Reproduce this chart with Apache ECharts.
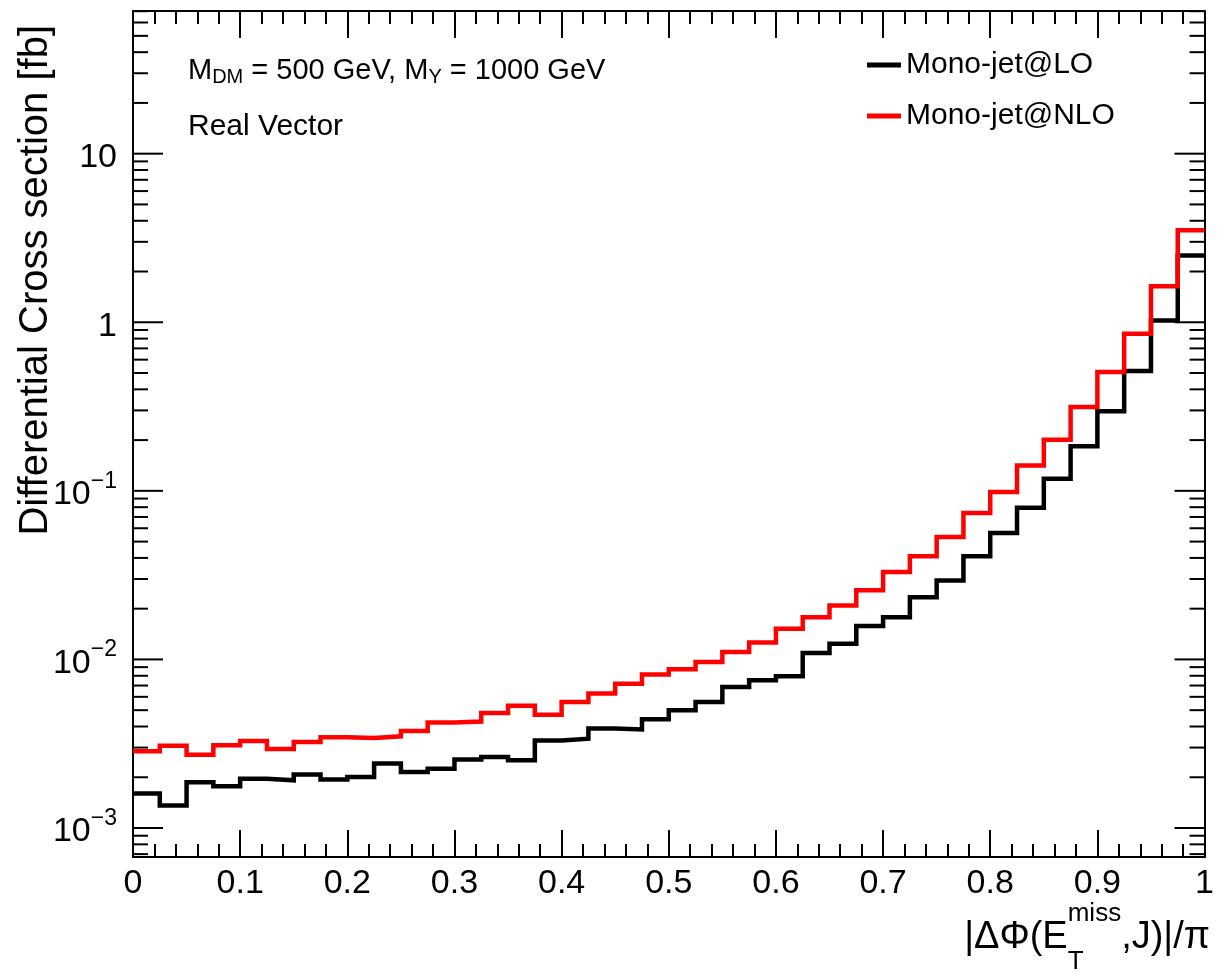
<!DOCTYPE html>
<html>
<head>
<meta charset="utf-8">
<script src="https://cdn.jsdelivr.net/npm/echarts@6/dist/echarts.min.js"></script>
<style>
  html, body { margin: 0; padding: 0; background: #fff; }
  #chart { width: 1217px; height: 972px; }
</style>
</head>
<body>
<div id="chart"></div>
<script>
// Binning of |dPhi(MET, J)|/pi : 40 bins from 0 to 1
const BIN_WIDTH = 0.025;
const N_BINS = 40;

// Differential cross section per bin [fb]
const monoJetLO = [
  1.60e-3, 1.36e-3, 1.87e-3, 1.77e-3, 1.96e-3, 1.92e-3, 2.08e-3, 1.94e-3, 2.01e-3, 2.41e-3,
  2.15e-3, 2.25e-3, 2.55e-3, 2.64e-3, 2.52e-3, 3.30e-3, 3.39e-3, 3.89e-3, 3.84e-3, 4.41e-3,
  4.99e-3, 5.59e-3, 6.86e-3, 7.52e-3, 7.94e-3, 1.092e-2, 1.24e-2, 1.58e-2, 1.78e-2, 2.34e-2,
  2.94e-2, 4.09e-2, 5.62e-2, 7.95e-2, 0.118, 0.184, 0.297, 0.514, 1.026, 2.49
];
const monoJetNLO = [
  2.85e-3, 3.08e-3, 2.72e-3, 3.10e-3, 3.28e-3, 2.94e-3, 3.24e-3, 3.45e-3, 3.42e-3, 3.50e-3,
  3.76e-3, 4.22e-3, 4.28e-3, 4.81e-3, 5.31e-3, 4.69e-3, 5.59e-3, 6.27e-3, 7.18e-3, 8.13e-3,
  8.73e-3, 9.66e-3, 1.107e-2, 1.259e-2, 1.52e-2, 1.78e-2, 2.09e-2, 2.57e-2, 3.30e-2, 4.09e-2,
  5.32e-2, 7.38e-2, 9.84e-2, 0.1416, 0.201, 0.314, 0.507, 0.855, 1.633, 3.51
];

// Axis ranges
const X_MIN = 0, X_MAX = 1, X_STEP = 0.1;
const Y_MIN = 6.73e-4, Y_MAX = 70.2;
const Y_DECADES = [-3, -2, -1, 0, 1];

const seriesNames = ['Mono-jet@LO', 'Mono-jet@NLO'];
const seriesColors = ['#000000', '#ff0000'];

const FONT = '"Liberation Sans", Arial, Helvetica, sans-serif';

// Histogram outline: one point per bin low edge plus the closing upper edge
function histPoints(values) {
  const pts = values.map((v, i) => [i * BIN_WIDTH, v]);
  pts.push([N_BINS * BIN_WIDTH, values[values.length - 1]]);
  return pts;
}

// Log-axis ticks: decades (major) and 2..9 x decade (minor) within range
const yTicks = [];
for (let e = -4; e <= 2; e++) {
  for (let m = 1; m <= 9; m++) {
    const v = m * Math.pow(10, e);
    if (v >= Y_MIN && v <= Y_MAX) yTicks.push([X_MIN, v, m === 1 ? 1 : 0]);
  }
}

function yLabel(value) {
  const l = Math.log10(value);
  const e = Math.round(l);
  if (Math.abs(l - e) > 1e-6 || Y_DECADES.indexOf(e) < 0) return '';
  if (e === 0) return '{n|1}';
  if (e === 1) return '{n|10}';
  return '{n|10}{s|\u2212' + (-e) + '}';
}

const chart = echarts.init(document.getElementById('chart'), null, { renderer: 'canvas' });

// Pieces of the x-axis title laid out right-to-left from the frame edge
const measureCtx = document.createElement('canvas').getContext('2d');
function textWidth(s, size) {
  measureCtx.font = size + 'px ' + FONT;
  return measureCtx.measureText(s).width;
}
const TITLE_SIZE = 38, SCRIPT_SIZE = 26;
const xTitleRight = 1210;
const partA = '|\u0394\u03A6(E', partB = ',J)|/\u03C0';
const xB = xTitleRight - textWidth(partB, TITLE_SIZE);
const xScript = xB - textWidth('miss', SCRIPT_SIZE);

const tickLine = { color: '#000', width: 2 };

const option = {
  animation: false,
  backgroundColor: '#ffffff',
  grid: { left: 133, right: 8, top: 11, bottom: 115, containLabel: false },
  xAxis: [
    {
      type: 'value', min: X_MIN, max: X_MAX, interval: X_STEP, position: 'bottom',
      axisLine: { show: true, onZero: false, lineStyle: { color: '#000', width: 2 } },
      axisTick: { show: true, inside: true, length: 27, lineStyle: tickLine },
      minorTick: { show: true, splitNumber: 5, length: 13, lineStyle: tickLine },
      splitLine: { show: false },
      axisLabel: {
        show: true, margin: 10, color: '#000', fontFamily: FONT, fontSize: 34,
        formatter: v => (Math.round(v * 10) / 10).toString()
      }
    },
    {
      type: 'value', min: X_MIN, max: X_MAX, interval: X_STEP, position: 'top',
      axisLine: { show: true, onZero: false, lineStyle: { color: '#000', width: 2 } },
      axisTick: { show: true, inside: true, length: 27, lineStyle: tickLine },
      minorTick: { show: true, splitNumber: 5, length: 13, lineStyle: tickLine },
      splitLine: { show: false },
      axisLabel: { show: false }
    }
  ],
  yAxis: [
    {
      type: 'log', logBase: 10, min: Y_MIN, max: Y_MAX, position: 'left',
      axisLine: { show: true, onZero: false, lineStyle: { color: '#000', width: 2 } },
      axisTick: { show: false },
      splitLine: { show: false },
      axisLabel: {
        show: true, margin: 16, color: '#000', fontFamily: FONT,
        showMinLabel: false, showMaxLabel: false,
        formatter: yLabel,
        rich: {
          n: { fontFamily: FONT, fontSize: 34, lineHeight: 42, verticalAlign: 'bottom', color: '#000' },
          s: { fontFamily: FONT, fontSize: 23, lineHeight: 6, verticalAlign: 'top', color: '#000' }
        }
      }
    },
    {
      type: 'log', logBase: 10, min: Y_MIN, max: Y_MAX, position: 'right',
      axisLine: { show: true, onZero: false, lineStyle: { color: '#000', width: 2 } },
      axisTick: { show: false },
      splitLine: { show: false },
      axisLabel: { show: false }
    }
  ],
  legend: {
    data: seriesNames,
    orient: 'vertical',
    left: 862, top: 45,
    itemWidth: 34, itemHeight: 5, itemGap: 21,
    icon: 'rect',
    textStyle: { fontFamily: FONT, fontSize: 30, color: '#000', padding: [0, 0, 0, 0] },
    selectedMode: false
  },
  series: [
    {
      // tick marks of the log axes, left and right frame edges
      type: 'custom', name: 'yTicks', silent: true, clip: false, z: 5,
      xAxisIndex: 0, yAxisIndex: 0,
      data: yTicks,
      renderItem: function (params, api) {
        const v = api.value(1);
        const len = api.value(2) ? 30 : 15;
        const pl = api.coord([X_MIN, v]);
        const pr = api.coord([X_MAX, v]);
        return {
          type: 'group',
          children: [
            { type: 'line', shape: { x1: pl[0], y1: pl[1], x2: pl[0] + len, y2: pl[1] }, style: { stroke: '#000', lineWidth: 2 } },
            { type: 'line', shape: { x1: pr[0], y1: pr[1], x2: pr[0] - len, y2: pr[1] }, style: { stroke: '#000', lineWidth: 2 } }
          ]
        };
      }
    },
    {
      name: seriesNames[0], type: 'line', step: 'end', showSymbol: false, symbol: 'none',
      xAxisIndex: 0, yAxisIndex: 0, z: 3,
      data: histPoints(monoJetLO),
      itemStyle: { color: seriesColors[0] },
      lineStyle: { color: seriesColors[0], width: 4.5, join: 'miter', cap: 'butt' }
    },
    {
      name: seriesNames[1], type: 'line', step: 'end', showSymbol: false, symbol: 'none',
      xAxisIndex: 0, yAxisIndex: 0, z: 4,
      data: histPoints(monoJetNLO),
      itemStyle: { color: seriesColors[1] },
      lineStyle: { color: seriesColors[1], width: 4.5, join: 'miter', cap: 'butt' }
    }
  ],
  graphic: [
    {
      type: 'text', left: 188, top: 56, z: 10,
      style: {
        text: '{m|M}{d|DM}{m| = 500 GeV, M}{d|Y}{m| = 1000 GeV}',
        rich: {
          m: { fontFamily: FONT, fontSize: 29, lineHeight: 31, verticalAlign: 'top', fill: '#000' },
          d: { fontFamily: FONT, fontSize: 20, lineHeight: 10, verticalAlign: 'bottom', fill: '#000' }
        }
      }
    },
    {
      type: 'text', left: 188, top: 112, z: 10,
      style: { text: 'Real Vector', fontFamily: FONT, fontSize: 30, fill: '#000' }
    },
    {
      // y-axis title, reading bottom to top, ending near the top of the frame
      type: 'text', x: 36, y: 25, rotation: Math.PI / 2, z: 10,
      style: {
        text: 'Differential Cross section [fb]', fontFamily: FONT, fontSize: 40,
        fill: '#000', align: 'right', verticalAlign: 'middle'
      }
    },
    {
      type: 'text', x: xScript, y: 938, z: 10,
      style: { text: partA, fontFamily: FONT, fontSize: TITLE_SIZE, fill: '#000', align: 'right', verticalAlign: 'middle' }
    },
    {
      type: 'text', x: xScript, y: 914, z: 10,
      style: { text: 'miss', fontFamily: FONT, fontSize: SCRIPT_SIZE, fill: '#000', align: 'left', verticalAlign: 'middle' }
    },
    {
      type: 'text', x: xScript, y: 962, z: 10,
      style: { text: 'T', fontFamily: FONT, fontSize: SCRIPT_SIZE, fill: '#000', align: 'left', verticalAlign: 'middle' }
    },
    {
      type: 'text', x: xB, y: 938, z: 10,
      style: { text: partB, fontFamily: FONT, fontSize: TITLE_SIZE, fill: '#000', align: 'left', verticalAlign: 'middle' }
    }
  ]
};

chart.setOption(option);
</script>
</body>
</html>
